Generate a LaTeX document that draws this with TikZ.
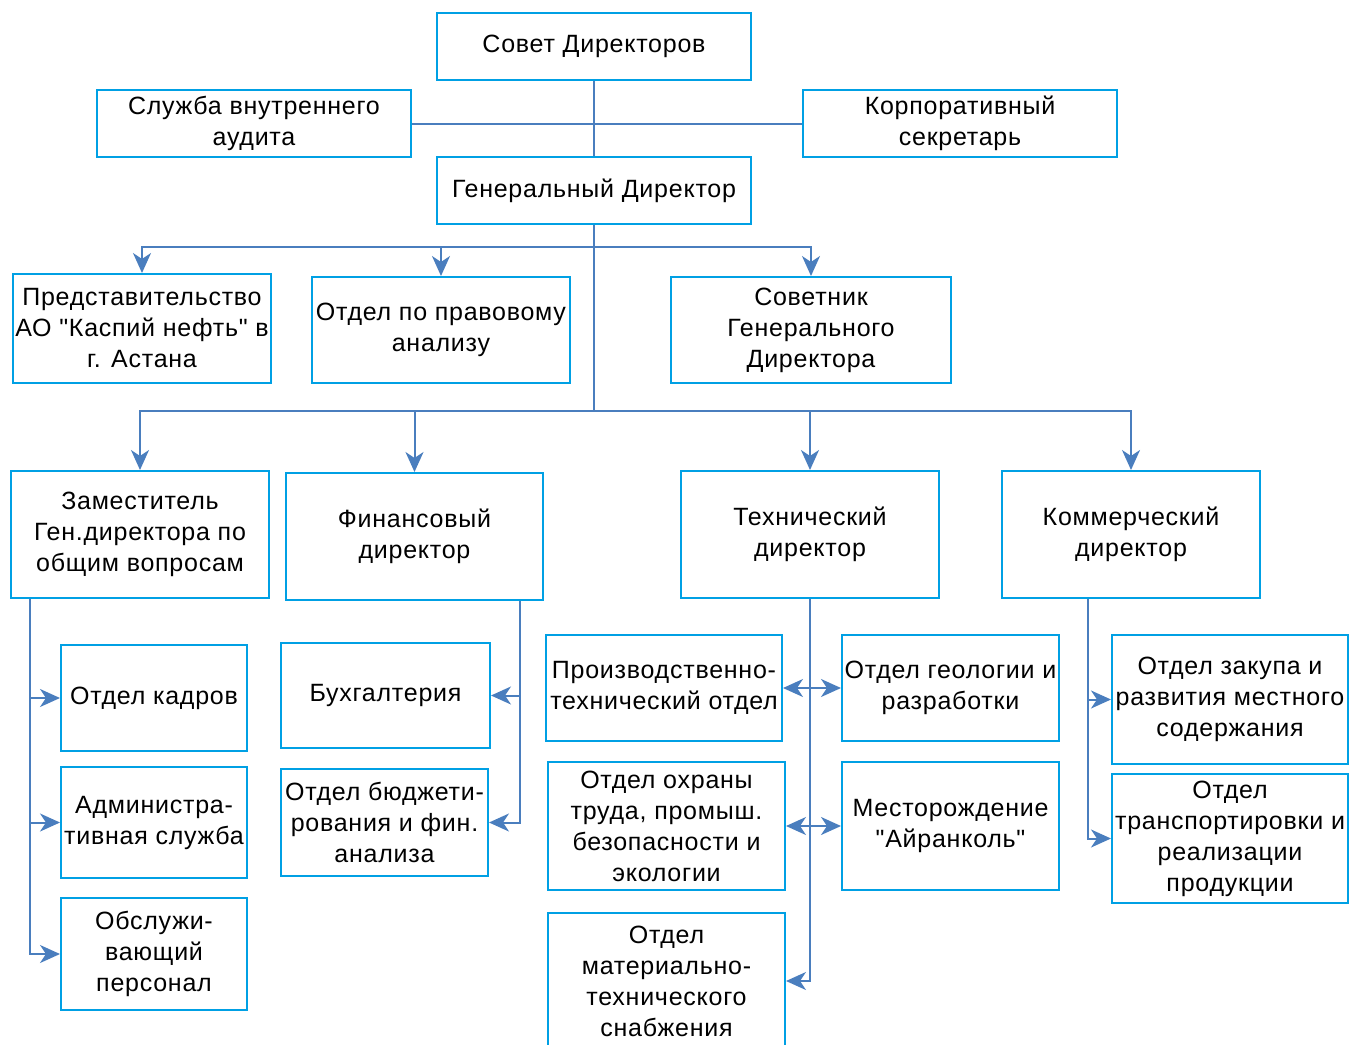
\documentclass[tikz,border=0pt]{standalone}
\usepackage{fontspec}
\setmainfont{Liberation Sans}[LetterSpace=3, Ligatures=TeXOff]
\usetikzlibrary{arrows.meta}

\definecolor{boxblue}{RGB}{0,160,228}
\definecolor{lineblue}{RGB}{74,126,190}

\tikzset{
	unit/.style={draw=boxblue, line width=2pt, align=center, inner sep=0pt,
		font=\fontsize{25}{31}\selectfont},
	link/.style={draw=lineblue, line width=2pt},
	arr/.style={link, -{Stealth[length=20pt,width=18pt,inset=6pt]}},
	arrs/.style={link, {Stealth[length=20pt,width=18pt,inset=6pt]}-{Stealth[length=20pt,width=18pt,inset=6pt]}}
}

\begin{document}
\begin{tikzpicture}[x=1pt,y=-1pt]

	% ---- frame

	\clip (0,0) rectangle (1349,1044);

	% ---- top

	\node[unit, minimum width=314pt, minimum height=67pt] (sovet) at (594,46.5) {Совет Директоров};
	\node[unit, minimum width=314pt, minimum height=67pt] (audit) at (254,123.5) {Служба внутреннего\\аудита};
	\node[unit, minimum width=314pt, minimum height=67pt] (secr) at (960,123.5) {Корпоративный\\секретарь};
	\node[unit, minimum width=314pt, minimum height=67pt] (gendir) at (594,190.5) {Генеральный Директор};

	\draw[link] (sovet.south) -- (gendir.north);
	\draw[link] (audit.east) -- (secr.west);

	% ---- second row

	\node[unit, minimum width=258pt, minimum height=109pt] (predst) at (142,328.5) {Представительство\\АО "Каспий нефть" в\\г. Астана};
	\node[unit, minimum width=258pt, minimum height=106pt] (pravo) at (441,330) {Отдел по правовому\\анализу};
	\node[unit, minimum width=280pt, minimum height=106pt] (sovetnik) at (811,330) {Советник\\Генерального\\Директора};

	\coordinate (bus1) at (594,247);
	\draw[link] (gendir.south) -- (bus1);
	\draw[arr] (bus1) -| (predst.north);
	\draw[arr] (bus1) -| (pravo.north);
	\draw[arr] (bus1) -| (sovetnik.north);

	% ---- directors

	\node[unit, minimum width=258pt, minimum height=127pt] (zam) at (140,534.5) {Заместитель\\Ген.директора по\\общим вопросам};
	\node[unit, minimum width=257pt, minimum height=127pt] (fin) at (414.5,536.5) {Финансовый\\директор};
	\node[unit, minimum width=258pt, minimum height=127pt] (tech) at (810,534.5) {Технический\\директор};
	\node[unit, minimum width=258pt, minimum height=127pt] (komm) at (1131,534.5) {Коммерческий\\директор};

	\coordinate (bus2) at (594,411);
	\draw[link] (bus1) -- (bus2);
	\draw[arr] (bus2) -| (zam.north);
	\draw[arr] (bus2) -| (fin.north);
	\draw[arr] (bus2) -| (tech.north);
	\draw[arr] (bus2) -| (komm.north);

	% ---- deputy

	\node[unit, minimum width=186pt, minimum height=106pt] (kadry) at (154,698) {Отдел кадров};
	\node[unit, minimum width=186pt, minimum height=111pt] (admin) at (154,822.5) {Администра-\\тивная служба};
	\node[unit, minimum width=186pt, minimum height=112pt] (obsl) at (154,954) {Обслужи-\\вающий\\персонал};

	\coordinate (zamL) at ([xshift=20pt]zam.south west);
	\draw[arr] (zamL) |- (kadry.west);
	\draw[arr] (zamL) |- (admin.west);
	\draw[arr] (zamL) |- (obsl.west);

	% ---- finance

	\node[unit, minimum width=209pt, minimum height=105pt] (buh) at (385.5,695.5) {Бухгалтерия};
	\node[unit, minimum width=207pt, minimum height=107pt] (budzhet) at (384.5,822.5) {Отдел бюджети-\\рования и фин.\\анализа};

	\coordinate (finR) at ([xshift=-24pt]fin.south east);
	\draw[arr] (finR) |- (buh.east);
	\draw[arr] (finR) |- (budzhet.east);

	% ---- technical

	\node[unit, minimum width=236pt, minimum height=106pt] (pto) at (664,688) {Производственно-\\технический отдел};
	\node[unit, minimum width=217pt, minimum height=106pt] (geo) at (950.5,688) {Отдел геологии и\\разработки};
	\node[unit, minimum width=237pt, minimum height=128pt] (ohrana) at (666.5,826) {Отдел охраны\\труда, промыш.\\безопасности и\\экологии};
	\node[unit, minimum width=217pt, minimum height=128pt] (mest) at (950.5,826) {Месторождение\\"Айранколь"};
	\node[unit, minimum width=237pt, minimum height=136pt] (mts) at (666.5,981) {Отдел\\материально-\\технического\\снабжения};

	\draw[arr] (tech.south) |- (mts.east);
	\draw[arrs] (pto.east) -- (geo.west);
	\draw[arrs] (ohrana.east) -- (mest.west);

	% ---- commercial

	\node[unit, minimum width=236pt, minimum height=129pt] (zakup) at (1230,699.5) {Отдел закупа и\\развития местного\\содержания};
	\node[unit, minimum width=236pt, minimum height=129pt] (transp) at (1230,838.5) {Отдел\\транспортировки и\\реализации\\продукции};

	\coordinate (kommL) at ([xshift=87pt]komm.south west);
	\draw[arr] (kommL) |- (zakup.west);
	\draw[arr] (kommL) |- (transp.west);

\end{tikzpicture}
\end{document}
